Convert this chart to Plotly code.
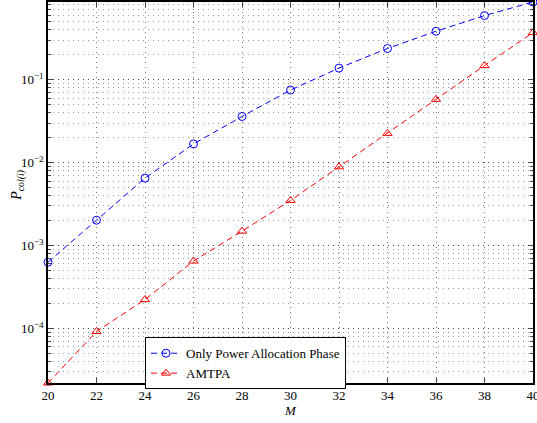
import math
import plotly.graph_objects as go

M = [20, 22, 24, 26, 28, 30, 32, 34, 36, 38, 40]
p_only_power = [6.3e-4, 2.02e-3, 6.5e-3, 1.68e-2, 3.6e-2, 7.5e-2, 0.138, 0.238, 0.384, 0.593, 0.865]
p_amtpa = [2.2e-5, 9.2e-5, 2.23e-4, 6.5e-4, 1.49e-3, 3.5e-3, 8.9e-3, 2.25e-2, 5.8e-2, 0.148, 0.37]

x_ticks = [20, 22, 24, 26, 28, 30, 32, 34, 36, 38, 40]
y_tickvals = [1e-4, 1e-3, 1e-2, 1e-1]
y_ticktext = ["10<sup>−4</sup>", "10<sup>−3</sup>", "10<sup>−2</sup>", "10<sup>−1</sup>"]

font_family = "Liberation Serif"

fig = go.Figure()
fig.add_trace(go.Scatter(
    x=M, y=p_only_power, mode="lines+markers", name="Only Power Allocation Phase",
    line=dict(color="#0000ff", dash="6px,4px", width=1),
    marker=dict(symbol="circle-open", size=8, color="#0000ff", line=dict(width=1)),
    cliponaxis=False,
))
fig.add_trace(go.Scatter(
    x=M, y=p_amtpa, mode="lines+markers", name="AMTPA",
    line=dict(color="#ff0000", dash="6px,4px", width=1),
    marker=dict(symbol="triangle-up-open", size=8, color="#ff0000", line=dict(width=1)),
    cliponaxis=False,
))

ymin = math.log10(min(p_amtpa))
ymax = math.log10(max(p_only_power))

fig.update_layout(
    width=537, height=423,
    margin=dict(l=48, r=4, t=2, b=40),
    paper_bgcolor="white", plot_bgcolor="white",
    font=dict(family=font_family, size=13, color="black"),
    showlegend=True,
    legend=dict(
        x=0.2, y=0.12, xanchor="left", yanchor="top",
        bgcolor="white", bordercolor="black", borderwidth=1,
        font=dict(family=font_family, size=13),
        tracegroupgap=0, itemwidth=30,
    ),
    xaxis=dict(
        range=[20, 40], tickvals=x_ticks, ticks="inside", ticklen=5,
        ticklabeloverflow="allow", automargin=False,
        showline=True, linecolor="black", linewidth=1.5, mirror="ticks",
        showgrid=True, gridcolor="#777777", griddash="1px,4px", gridwidth=1,
        zeroline=False,
        title=dict(text="<i>M</i>", font=dict(family=font_family, size=13), standoff=2),
    ),
    yaxis=dict(
        type="log", range=[ymin, ymax], automargin=False,
        tickvals=y_tickvals, ticktext=y_ticktext, ticks="inside", ticklen=5,
        showline=True, linecolor="black", linewidth=1.5, mirror="ticks",
        showgrid=True, gridcolor="#444444", griddash="1px,4px", gridwidth=1,
        zeroline=False,
        minor=dict(dtick="D1", showgrid=True, gridcolor="#999999", griddash="1px,4px", ticks="inside", ticklen=3),
    ),
    annotations=[dict(
        text="<i>P</i><sub><i>col(i)</i></sub>", textangle=-90,
        xref="paper", yref="paper", x=-0.062, y=0.52,
        xanchor="center", yanchor="middle", showarrow=False,
        font=dict(family=font_family, size=14),
    )],
)

fig.write_html("out.html", config={"displayModeBar": False},
               post_script="document.body.style.margin='0';")
